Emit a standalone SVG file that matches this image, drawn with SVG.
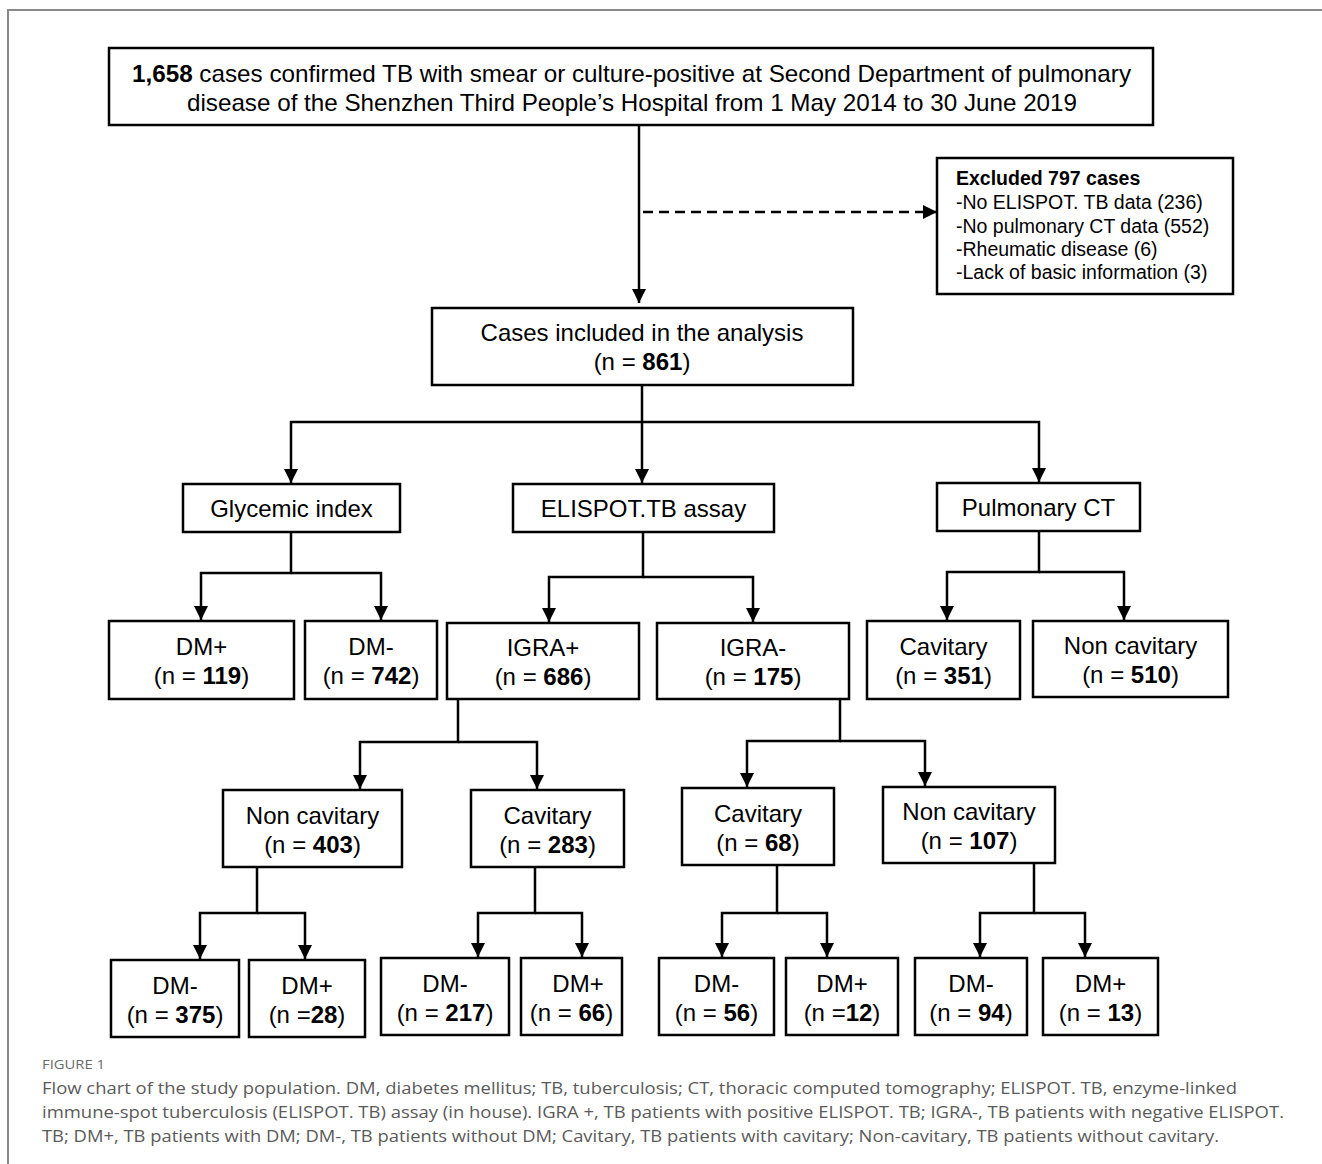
<svg xmlns="http://www.w3.org/2000/svg" width="1322" height="1164" viewBox="0 0 1322 1164">
<defs>
<marker id="arr" markerUnits="userSpaceOnUse" markerWidth="14" markerHeight="14" refX="14" refY="7" orient="auto">
<path d="M0,0 L14,7 L0,14 z" fill="#000"/>
</marker>
<style>
.box{fill:#fff;stroke:#000;stroke-width:2.5}
.t{font-family:"Liberation Sans",Arial,sans-serif;font-size:24px;fill:#000;text-anchor:middle}
.ex{font-family:"Liberation Sans",Arial,sans-serif;font-size:19.5px;fill:#000}
.b{font-weight:bold}
.c{fill:none;stroke:#000;stroke-width:2.5;marker-end:url(#arr)}
.cap{font-family:"Open Sans","Liberation Sans",sans-serif;font-size:17px;fill:#5a5a5a}
</style>
</defs>
<rect width="1322" height="1164" fill="#fff"/>
<path d="M8,1164 V10 H1322" fill="none" stroke="#8a8a8a" stroke-width="2"/>

<g id="connectors">
<path class="c" d="M639,125 V303"/>
<path class="c" d="M643,212 H937" stroke-dasharray="10 6"/>
<path class="c" d="M642,385 V483"/>
<path class="c" d="M642,422 H291 V483"/>
<path class="c" d="M642,422 H1039 V482"/>
<path class="c" d="M291,532 V573 H201 V620"/>
<path class="c" d="M291,573 H381 V620"/>
<path class="c" d="M643,532 V577 H549 V622"/>
<path class="c" d="M643,577 H753 V622"/>
<path class="c" d="M1039,531 V572 H947 V620"/>
<path class="c" d="M1039,572 H1124 V620"/>
<path class="c" d="M458,699 V742 H360 V789"/>
<path class="c" d="M458,742 H537 V789"/>
<path class="c" d="M840,699 V741 H747 V787"/>
<path class="c" d="M840,741 H925 V786"/>
<path class="c" d="M257,867 V913 H200 V959"/>
<path class="c" d="M257,913 H305 V959"/>
<path class="c" d="M535,867 V913 H478 V957"/>
<path class="c" d="M535,913 H582 V957"/>
<path class="c" d="M777,865 V913 H722 V957"/>
<path class="c" d="M777,913 H827 V957"/>
<path class="c" d="M1034,863 V913 H980 V957"/>
<path class="c" d="M1034,913 H1085 V957"/>
</g>

<g id="n-source">
<rect class="box" x="109" y="48" width="1044" height="77"/>
<text class="t" x="631.5" y="81.5" textLength="999" lengthAdjust="spacingAndGlyphs"><tspan class="b">1,658</tspan> cases confirmed TB with smear or culture-positive at Second Department of pulmonary</text>
<text class="t" x="632" y="110.5" textLength="890" lengthAdjust="spacingAndGlyphs">disease of the Shenzhen Third People’s Hospital from 1 May 2014 to 30 June 2019</text>
</g>

<g id="n-excluded">
<rect class="box" x="937" y="158" width="296" height="136"/>
<text class="ex b" x="956" y="185">Excluded 797 cases</text>
<text class="ex" x="956" y="209">-No ELISPOT. TB data (236)</text>
<text class="ex" x="956" y="233">-No pulmonary CT data (552)</text>
<text class="ex" x="956" y="256">-Rheumatic disease (6)</text>
<text class="ex" x="956" y="279">-Lack of basic information (3)</text>
</g>

<g id="n-included">
<rect class="box" x="432" y="308" width="421" height="77"/>
<text class="t" x="642" y="341">Cases included in the analysis</text>
<text class="t" x="642" y="370">(n = <tspan class="b">861</tspan>)</text>
</g>

<g id="n-glycemic">
<rect class="box" x="183" y="484" width="217" height="48"/>
<text class="t" x="291.5" y="517">Glycemic index</text>
</g>
<g id="n-elispot">
<rect class="box" x="513" y="484" width="261" height="48"/>
<text class="t" x="643.5" y="517">ELISPOT.TB assay</text>
</g>
<g id="n-ct">
<rect class="box" x="937" y="483" width="203" height="48"/>
<text class="t" x="1038.5" y="516">Pulmonary CT</text>
</g>

<g id="n-dmplus">
<rect class="box" x="109" y="621" width="185" height="78"/>
<text class="t" x="201.5" y="655">DM+</text>
<text class="t" x="201.5" y="684">(n = <tspan class="b">119</tspan>)</text>
</g>
<g id="n-dmminus">
<rect class="box" x="305" y="621" width="132" height="78"/>
<text class="t" x="371" y="655">DM-</text>
<text class="t" x="371" y="684">(n = <tspan class="b">742</tspan>)</text>
</g>
<g id="n-igraplus">
<rect class="box" x="447" y="623" width="192" height="76"/>
<text class="t" x="543" y="656">IGRA+</text>
<text class="t" x="543" y="685">(n = <tspan class="b">686</tspan>)</text>
</g>
<g id="n-igraminus">
<rect class="box" x="657" y="623" width="192" height="76"/>
<text class="t" x="753" y="656">IGRA-</text>
<text class="t" x="753" y="685">(n = <tspan class="b">175</tspan>)</text>
</g>
<g id="n-cav">
<rect class="box" x="867" y="621" width="153" height="78"/>
<text class="t" x="943.5" y="655">Cavitary</text>
<text class="t" x="943.5" y="684">(n = <tspan class="b">351</tspan>)</text>
</g>
<g id="n-noncav">
<rect class="box" x="1033" y="621" width="195" height="76"/>
<text class="t" x="1130.5" y="654">Non cavitary</text>
<text class="t" x="1130.5" y="683">(n = <tspan class="b">510</tspan>)</text>
</g>

<g id="n-ip-noncav">
<rect class="box" x="223" y="790" width="179" height="77"/>
<text class="t" x="312.5" y="824">Non cavitary</text>
<text class="t" x="312.5" y="853">(n = <tspan class="b">403</tspan>)</text>
</g>
<g id="n-ip-cav">
<rect class="box" x="471" y="790" width="153" height="77"/>
<text class="t" x="547.5" y="824">Cavitary</text>
<text class="t" x="547.5" y="853">(n = <tspan class="b">283</tspan>)</text>
</g>
<g id="n-im-cav">
<rect class="box" x="682" y="788" width="152" height="77"/>
<text class="t" x="758" y="822">Cavitary</text>
<text class="t" x="758" y="851">(n = <tspan class="b">68</tspan>)</text>
</g>
<g id="n-im-noncav">
<rect class="box" x="883" y="787" width="172" height="76"/>
<text class="t" x="969" y="820">Non cavitary</text>
<text class="t" x="969" y="849">(n = <tspan class="b">107</tspan>)</text>
</g>

<g id="n-b1">
<rect class="box" x="111" y="960" width="128" height="77"/>
<text class="t" x="175" y="994">DM-</text>
<text class="t" x="175" y="1023">(n = <tspan class="b">375</tspan>)</text>
</g>
<g id="n-b2">
<rect class="box" x="249" y="960" width="116" height="77"/>
<text class="t" x="307" y="994">DM+</text>
<text class="t" x="307" y="1023">(n =<tspan class="b">28</tspan>)</text>
</g>
<g id="n-b3">
<rect class="box" x="381" y="958" width="128" height="77"/>
<text class="t" x="445" y="992">DM-</text>
<text class="t" x="445" y="1021">(n = <tspan class="b">217</tspan>)</text>
</g>
<g id="n-b4">
<rect class="box" x="521" y="958" width="101" height="77"/>
<text class="t" x="578" y="992">DM+</text>
<text class="t" x="571.5" y="1021" font-size="22">(n = <tspan class="b">66</tspan>)</text>
</g>
<g id="n-b5">
<rect class="box" x="659" y="958" width="115" height="77"/>
<text class="t" x="716.5" y="992">DM-</text>
<text class="t" x="716.5" y="1021">(n = <tspan class="b">56</tspan>)</text>
</g>
<g id="n-b6">
<rect class="box" x="786" y="958" width="112" height="77"/>
<text class="t" x="842" y="992">DM+</text>
<text class="t" x="842" y="1021">(n =<tspan class="b">12</tspan>)</text>
</g>
<g id="n-b7">
<rect class="box" x="915" y="958" width="112" height="77"/>
<text class="t" x="971" y="992">DM-</text>
<text class="t" x="971" y="1021">(n = <tspan class="b">94</tspan>)</text>
</g>
<g id="n-b8">
<rect class="box" x="1043" y="958" width="115" height="77"/>
<text class="t" x="1100.5" y="992">DM+</text>
<text class="t" x="1100.5" y="1021">(n = <tspan class="b">13</tspan>)</text>
</g>

<g id="caption">
<text x="42" y="1069" font-family="'Open Sans','Liberation Sans',sans-serif" font-size="13" fill="#6a6a6a" textLength="63" lengthAdjust="spacingAndGlyphs">FIGURE 1</text>
<text class="cap" x="42" y="1094" textLength="1195" lengthAdjust="spacingAndGlyphs">Flow chart of the study population. DM, diabetes mellitus; TB, tuberculosis; CT, thoracic computed tomography; ELISPOT. TB, enzyme-linked</text>
<text class="cap" x="42" y="1118" textLength="1242" lengthAdjust="spacingAndGlyphs">immune-spot tuberculosis (ELISPOT. TB) assay (in house). IGRA +, TB patients with positive ELISPOT. TB; IGRA-, TB patients with negative ELISPOT.</text>
<text class="cap" x="42" y="1142" textLength="1177" lengthAdjust="spacingAndGlyphs">TB; DM+, TB patients with DM; DM-, TB patients without DM; Cavitary, TB patients with cavitary; Non-cavitary, TB patients without cavitary.</text>
</g>
</svg>
